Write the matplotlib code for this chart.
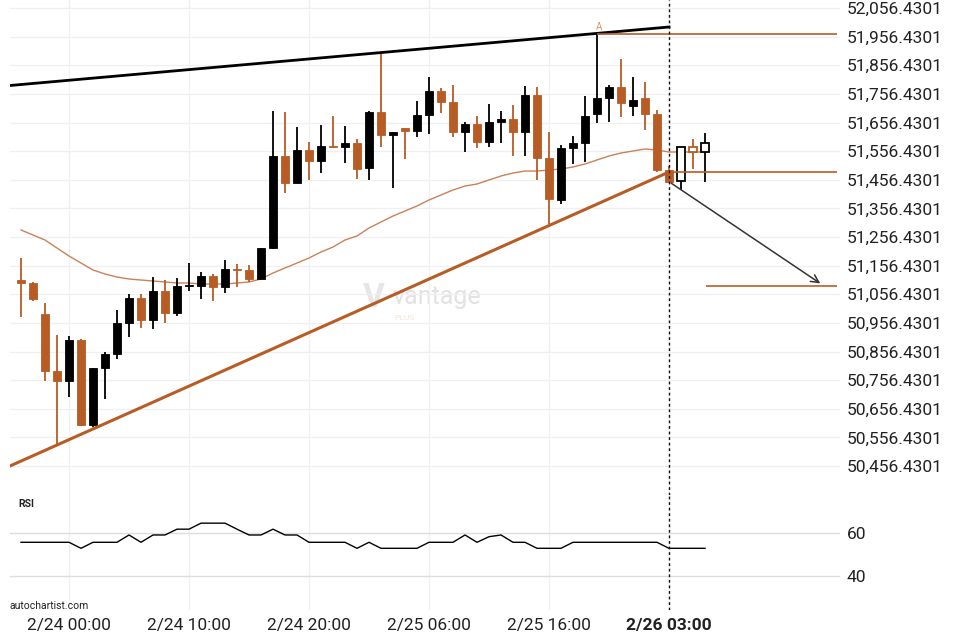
import matplotlib
matplotlib.use("Agg")
import matplotlib.pyplot as plt
import numpy as np

plt.rcParams['font.family'] = ['Roboto', 'DejaVu Sans']

ORANGE = '#B85C26'
MA_COL = '#C98257'

# hourly candles, index 0 = 2/23 20:00
opens = [51106.2, 51095.8, 50987.5, 50788.3, 50753.4, 50896.6, 50599.7, 50798.8, 50847.7, 50956.0,
         51043.4, 50966.5, 51067.8, 50991.0, 51085.3, 51085.3, 51120.2, 51081.8, 51144.7, 51141.2,
         51109.7, 51218.0, 51539.4, 51445.1, 51560.4, 51522.0, 51574.4, 51570.9, 51584.8, 51497.5,
         51693.1, 51612.8, 51637.2, 51626.8, 51682.7, 51766.5, 51728.1, 51623.3, 51651.2, 51588.3,
         51658.2, 51668.7, 51623.3, 51752.5, 51532.4, 51385.7, 51567.4, 51584.8, 51686.2, 51742.0,
         51780.5, 51714.1, 51742.0, 51686.2, 51490.5, 51452.1, 51570.9, 51553.4]
highs = [51183.0, 51099.3, 51025.9, 50914.1, 50910.6, 50900.1, 50798.8, 50854.7, 51001.4, 51057.3,
         51057.3, 51116.7, 51106.2, 51113.2, 51165.6, 51134.2, 51127.2, 51176.1, 51162.1, 51158.6,
         51218.0, 51696.6, 51693.1, 51640.7, 51588.3, 51647.7, 51679.2, 51644.2, 51598.8, 51696.6,
         51902.7, 51623.3, 51637.2, 51731.6, 51815.4, 51777.0, 51787.5, 51658.2, 51679.2, 51721.1,
         51696.6, 51717.6, 51784.0, 51780.5, 51623.3, 51577.9, 51609.3, 51749.0, 51965.6, 51787.5,
         51878.3, 51815.4, 51797.9, 51700.1, 51504.5, 51570.9, 51598.8, 51619.8]
lows = [50977.0, 51032.9, 50753.4, 50533.3, 50697.5, 50596.2, 50592.7, 50690.5, 50830.3, 50907.1,
        50938.6, 50935.1, 50956.0, 50980.5, 51067.8, 51039.9, 51032.9, 51060.8, 51081.8, 51099.3,
        51109.7, 51214.5, 51410.2, 51445.1, 51455.6, 51480.0, 51567.4, 51515.0, 51459.1, 51455.6,
        51570.9, 51427.6, 51528.9, 51605.8, 51616.3, 51689.6, 51605.8, 51553.4, 51567.4, 51570.9,
        51584.8, 51539.4, 51539.4, 51455.6, 51301.9, 51371.7, 51511.5, 51518.5, 51654.7, 51658.2,
        51675.7, 51679.2, 51630.3, 51483.5, 51445.1, 51420.7, 51494.0, 51448.6]
closes = [51095.8, 51039.9, 50788.3, 50753.4, 50896.6, 50599.7, 50798.8, 50847.7, 50956.0, 51043.4,
          50966.5, 51067.8, 50991.0, 51085.3, 51088.8, 51120.2, 51081.8, 51144.7, 51141.2, 51109.7,
          51218.0, 51539.4, 51445.1, 51560.4, 51522.0, 51574.4, 51570.9, 51584.8, 51494.0, 51693.1,
          51612.8, 51623.3, 51626.8, 51682.7, 51766.5, 51728.1, 51623.3, 51651.2, 51588.3, 51658.2,
          51668.7, 51623.3, 51752.5, 51532.4, 51389.2, 51567.4, 51584.8, 51679.2, 51742.0, 51780.5,
          51724.6, 51735.1, 51686.2, 51490.5, 51448.6, 51570.9, 51553.4, 51584.8]
ma = [51280.9, 51263.5, 51246.0, 51218.0, 51190.1, 51165.6, 51141.2, 51127.2, 51116.7, 51109.7,
      51106.2, 51102.8, 51099.3, 51095.8, 51095.8, 51092.3, 51092.3, 51092.3, 51095.8, 51099.3,
      51109.7, 51130.7, 51148.2, 51165.6, 51183.1, 51204.1, 51221.5, 51246.0, 51260.0, 51287.9,
      51308.9, 51329.8, 51347.3, 51364.8, 51385.7, 51403.2, 51420.7, 51434.6, 51441.6, 51455.6,
      51469.6, 51480.0, 51487.0, 51487.0, 51490.5, 51494.0, 51501.0, 51511.5, 51525.5, 51539.4,
      51549.9, 51556.9, 51563.9, 51560.4, 51553.4, 51553.4, 51553.4, 51553.4]
rsi = [55.8, 55.8, 55.8, 55.8, 55.8, 53.0, 55.8, 55.8, 55.8, 59.2,
       55.8, 59.2, 59.2, 61.9, 61.9, 64.7, 64.7, 64.7, 61.9, 59.2,
       59.2, 61.9, 59.2, 59.2, 55.8, 55.8, 55.8, 55.8, 53.0, 55.8,
       53.0, 53.0, 53.0, 53.0, 55.8, 55.8, 55.8, 59.2, 55.8, 58.4,
       59.2, 55.8, 55.8, 53.0, 53.0, 53.0, 55.8, 55.8, 55.8, 55.8,
       55.8, 55.8, 55.8, 55.8, 53.0, 53.0, 53.0, 53.0]
n_pattern = 55  # candles after this are drawn hollow

tick_idx = [4, 14, 24, 34, 44, 54]
tick_labels = ['2/24 00:00', '2/24 10:00', '2/24 20:00', '2/25 06:00', '2/25 16:00', '2/26 03:00']
price_ticks = [50456.4301 + 100 * k for k in range(17)]

# pattern lines
res_x, res_y = [-0.92, 54], [51785.7, 51990.1]
sup_x, sup_y = [-0.92, 54], [50456.5, 51483.5]
level_high, level_high_x = 51964.6, 48
level_break, level_break_x = 51483.5, 54
target, target_x = 51086.3, 57.05
arrow_from = (54, 51449.7)
arrow_to = (66.8, 51088.8)

fig = plt.figure(figsize=(9.6, 6.4), dpi=100)
ax = fig.add_axes([10 / 960, 1 - 495 / 640, 830 / 960, 495 / 640])
ax2 = fig.add_axes([10 / 960, 1 - 610 / 640, 830 / 960, 115 / 640])

xmin, xmax = (10 - 21) / 12, (840 - 21) / 12
x = np.arange(len(opens))

for a in (ax, ax2):
    a.set_xlim(xmin, xmax)
    for s in a.spines.values():
        s.set_visible(False)
    a.yaxis.tick_right()
    a.tick_params(axis='both', length=0)
    a.set_xticks(tick_idx)
    a.grid(axis='x', color='#f0f0f0', lw=1)
    a.axvline(54, color='#111', lw=1, ls=(0, (2, 2)), zorder=6)

ax.set_ylim(50355.2, 52084.4)
ax.set_yticks(price_ticks)
ax.set_yticklabels([f'{v:,.4f}' for v in price_ticks], fontsize=12.5, color='#222')
ax.tick_params(axis='y', pad=5)
ax.grid(axis='y', color='#f0f0f0', lw=1)
ax.set_xticklabels([])

# candles
for i in x:
    o, h, l, c = opens[i], highs[i], lows[i], closes[i]
    col = ORANGE if c < o else '#000000'
    ax.vlines(i, l, h, color=col, lw=1.3, zorder=3)
    lo, hi = min(o, c), max(o, c)
    if i < n_pattern:
        ax.bar(i, max(hi - lo, 1), bottom=lo, width=0.72, color=col, edgecolor=col, lw=0.6, zorder=4)
    else:
        ax.bar(i, max(hi - lo, 1), bottom=lo, width=0.66, color='white', edgecolor=col, lw=1.3, zorder=4)

ax.plot(x, ma, color=MA_COL, lw=1.0, zorder=2)
ax.plot(res_x, res_y, color='#000', lw=2.0, zorder=5)
ax.plot(sup_x, sup_y, color=ORANGE, lw=2.2, zorder=5)
ax.hlines(level_high, level_high_x, (837 - 21) / 12, color=ORANGE, lw=1.2, zorder=5)
ax.hlines(level_break, level_break_x, (837 - 21) / 12, color=ORANGE, lw=1.2, zorder=5)
ax.hlines(target, target_x, (837 - 21) / 12, color=ORANGE, lw=1.2, zorder=5)
ax.annotate('', xy=arrow_to, xytext=arrow_from,
            arrowprops=dict(arrowstyle='->', color='#333', lw=1.1, mutation_scale=14), zorder=6)
ax.text(48.2, level_high + 8, 'A', color='#D99060', fontsize=7, ha='center', va='bottom')

# watermark
ax.text(29.4, 51045, 'V', color='#e6e6e6', fontsize=24, ha='center', va='center', fontweight='bold', zorder=1)
ax.text(31.0, 51048, 'vantage', color='#e2e2e2', fontsize=18, ha='left', va='center', zorder=1)
ax.text(31.1, 50975, 'PLUS', color='#f6e3d6', fontsize=6, ha='left', va='center', zorder=1)

# RSI panel
ax2.set_ylim(24.3, 77.8)
ax2.set_yticks([40, 60])
ax2.set_yticklabels(['40', '60'], fontsize=12.5, color='#222')
ax2.tick_params(axis='y', pad=5)
ax2.grid(axis='y', color='#dddddd', lw=1)
ax2.plot(x, rsi, color='#000', lw=1.0, zorder=3)
ax2.set_xticklabels(tick_labels, fontsize=12.5, color='#222')
ax2.get_xticklabels()[-1].set_fontweight('bold')
ax2.tick_params(axis='x', pad=6)

fig.text(18 / 960, 1 - 504 / 640, 'RSI', fontsize=7.5, fontweight='bold', color='#222', va='center')
fig.text(10 / 960, 1 - 606 / 640, 'autochartist.com', fontsize=7.5, color='#222', va='center')

fig.savefig('out.png', dpi=100, facecolor='white')
